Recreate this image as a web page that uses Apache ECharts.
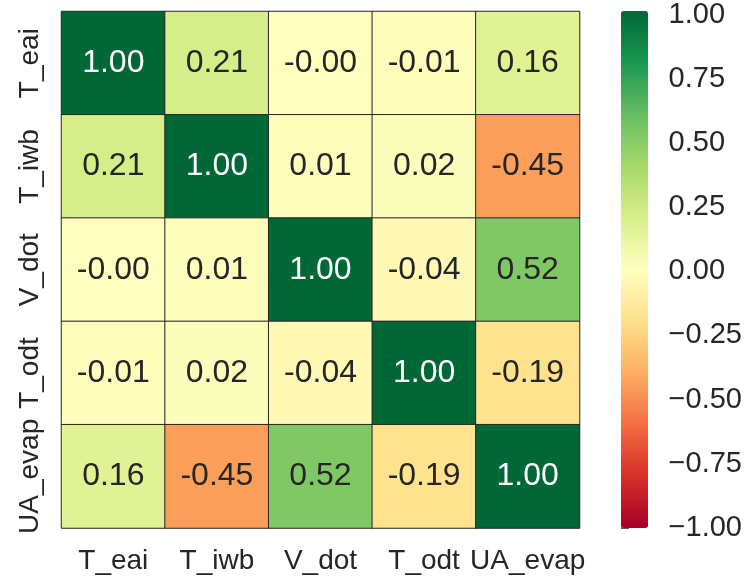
<!DOCTYPE html>
<html>
<head>
<meta charset="utf-8">
<script src="https://cdn.jsdelivr.net/npm/echarts@6/dist/echarts.min.js"></script>
<style>
  html, body { margin: 0; padding: 0; background: #ffffff; }
  #chart { width: 745px; height: 582px; }
</style>
</head>
<body>
<div id="chart"></div>
<script>
// Variable names along both axes of the correlation matrix
const variables = ['T_eai', 'T_iwb', 'V_dot', 'T_odt', 'UA_evap'];

// Correlation coefficients, one row per variable (top to bottom)
const rowTEai   = [1.00, 0.21, -0.00, -0.01, 0.16];
const rowTIwb   = [0.21, 1.00, 0.01, 0.02, -0.45];
const rowVDot   = [-0.00, 0.01, 1.00, -0.04, 0.52];
const rowTOdt   = [-0.01, 0.02, -0.04, 1.00, -0.19];
const rowUAEvap = [0.16, -0.45, 0.52, -0.19, 1.00];
const matrix = [rowTEai, rowTIwb, rowVDot, rowTOdt, rowUAEvap];

// Colour bar tick values
const colorbarTicks = [-1.00, -0.75, -0.50, -0.25, 0.00, 0.25, 0.50, 0.75, 1.00];

// RdYlGn diverging palette
const rdYlGn = ['#a50026', '#d73027', '#f46d43', '#fdae61', '#fee08b', '#ffffbf',
                '#d9ef8b', '#a6d96a', '#66bd63', '#1a9850', '#006837'];

function fmtCell(v) {
  const neg = v < 0 || Object.is(v, -0);
  return (neg ? '-' : '') + Math.abs(v).toFixed(2);
}

const cells = [];
matrix.forEach((row, r) => {
  row.forEach((v, c) => {
    cells.push({
      value: [c, r, v],
      label: { color: v > 0.7 ? '#ffffff' : '#262626' }
    });
  });
});

const FONT = '"Liberation Sans", Arial, Helvetica, sans-serif';
const chart = echarts.init(document.getElementById('chart'));

chart.setOption({
  animation: false,
  backgroundColor: '#ffffff',
  textStyle: { fontFamily: FONT },
  grid: [
    { left: 61.5, top: 11.5, width: 518, height: 516.5 },
    { left: 621, top: 11, width: 27, height: 517 }
  ],
  xAxis: [
    {
      type: 'category', gridIndex: 0, data: variables,
      axisLine: { show: false }, axisTick: { show: false }, splitLine: { show: false },
      axisLabel: { interval: 0, fontSize: 28, color: '#262626', margin: 19, fontFamily: FONT }
    },
    { type: 'value', gridIndex: 1, show: false, min: 0, max: 1 }
  ],
  yAxis: [
    {
      type: 'category', gridIndex: 0, data: variables, inverse: true,
      axisLine: { show: false }, axisTick: { show: false }, splitLine: { show: false },
      axisLabel: { interval: 0, fontSize: 28, color: '#262626', margin: 17, rotate: 90, fontFamily: FONT }
    },
    {
      type: 'value', gridIndex: 1, position: 'right',
      min: colorbarTicks[0], max: colorbarTicks[colorbarTicks.length - 1], interval: 0.25,
      axisLine: { show: false }, splitLine: { show: false },
      axisTick: { show: true, length: 8, lineStyle: { color: '#262626', width: 1.5 } },
      axisLabel: {
        fontSize: 29, color: '#262626', margin: 21, fontFamily: FONT,
        formatter: v => (v < 0 ? '\u2212' : '') + Math.abs(v).toFixed(2)
      }
    }
  ],
  visualMap: {
    type: 'continuous', seriesIndex: 0, min: -1, max: 1,
    left: 621, top: 11, itemWidth: 27, itemHeight: 517, padding: 0,
    calculable: false, hoverLink: false, text: null, showLabel: false,
    inRange: { color: rdYlGn }
  },
  series: [
    {
      type: 'heatmap', xAxisIndex: 0, yAxisIndex: 0, data: cells,
      itemStyle: { borderColor: '#262626', borderWidth: 1 },
      label: {
        show: true, fontSize: 32, fontFamily: FONT,
        formatter: p => fmtCell(p.value[2])
      }
    },
    { type: 'line', xAxisIndex: 1, yAxisIndex: 1, data: [], silent: true }
  ]
});
</script>
</body>
</html>
